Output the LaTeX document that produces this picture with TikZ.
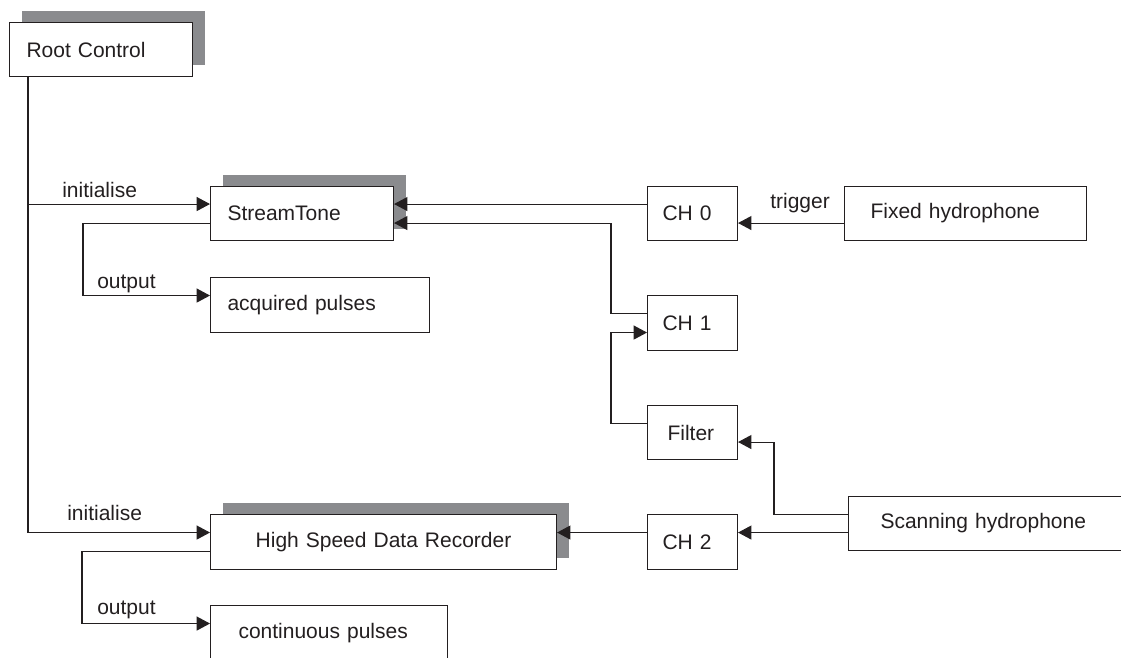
\documentclass[tikz,border=0pt]{standalone}
\usepackage{fontspec}
\setmainfont{Liberation Sans}
\usetikzlibrary{arrows.meta,calc,shadows}

\definecolor{ink}{HTML}{231F20}
\definecolor{shadegray}{HTML}{8A8B8E}

\tikzset{
  blk/.style n args={3}{draw=ink, line width=0.8pt, fill=white, anchor=north west,
    minimum width=#1*0.75pt, minimum height=#2*0.75pt, inner xsep=#3*0.75pt,
    inner ysep=0pt, text width=#1*0.75pt-1.5*#3pt, align=left, text=ink},
  shd/.style={drop shadow={shadow xshift=9pt, shadow yshift=9pt, fill=shadegray, opacity=1}},
  ln/.style={draw=ink, line width=0.8pt},
  arr/.style={-{Triangle[length=10pt,width=10.5pt]}},
  lbl/.style={text=ink, anchor=base west, inner sep=0pt}
}

\begin{document}
\begin{tikzpicture}[x=0.75pt, y=-0.75pt, font=\fontsize{15.75}{18}\selectfont]
    \useasboundingbox (0,0) rectangle (1121,657);
    \clip (0,0) rectangle (1121,657);

    % Draw the blocks
    \node[blk={183}{54}{17}, shd] (root) at (9,22) {Root Control};
    \node[blk={183}{54}{17}, shd] (stream) at (210,186) {StreamTone};
    \node[blk={219}{55}{17}] (acq) at (210,277) {acquired pulses};
    \node[blk={346}{55}{20}, align=center, shd] (hsdr) at (210,514) {High Speed Data Recorder};
    \node[blk={237}{55}{28}] (cont) at (210,605) {continuous pulses};
    \node[blk={90}{54}{15}] (ch0) at (647,186) {CH 0};
    \node[blk={90}{55}{15}] (ch1) at (647,295) {CH 1};
    \node[blk={90}{54}{20}] (filter) at (647,405) {Filter};
    \node[blk={90}{55}{15}] (ch2) at (647,514) {CH 2};
    \node[blk={242}{54}{26}] (fixed) at (844,186) {Fixed hydrophone};
    \node[blk={300}{54}{32}] (scan) at (848,496) {Scanning hydrophone};

    % Root control lines
    \coordinate (trunk) at ($(root.south west)+(19,0)$);
    \coordinate (st-in) at ($(stream.west)+(0,-9.5)$);
    \coordinate (hs-in) at ($(hsdr.west)+(0,-9.5)$);
    \draw[ln, arr] (trunk) |- (hs-in);
    \draw[ln, arr] (trunk |- st-in) -- (st-in);
    \draw[ln, arr] ($(stream.west)+(0,9.5)$) -- ++(-127,0) |- ($(acq.west)+(0,-9.5)$);
    \draw[ln, arr] ($(hsdr.west)+(0,9.5)$) -- ++(-128,0) |- ($(cont.west)+(0,-9.5)$);

    % Channels
    \draw[ln, arr] ($(ch0.west)+(0,-9.5)$) -- ($(stream.east)+(0,-9.5)$);
    \draw[ln, arr] ($(ch1.west)+(0,-9.5)$) -- ++(-36,0) |- ($(stream.east)+(0,9.5)$);
    \draw[ln, arr] ($(fixed.west)+(0,9.5)$) -- ($(ch0.east)+(0,9.5)$);
    \draw[ln, arr] ($(filter.west)+(0,-9.5)$) -- ++(-36,0) |- ($(ch1.west)+(0,9.5)$);
    \draw[ln, arr] ($(scan.west)+(0,-9)$) -- ++(-74,0) |- ($(filter.east)+(0,9.5)$);
    \draw[ln, arr] ($(scan.west)+(0,9)$) -- ($(ch2.east)+(0,-9.5)$);
    \draw[ln, arr] ($(ch2.west)+(0,-9.5)$) -- ($(hsdr.east)+(0,-9.5)$);

    \node[lbl] (init1) at (62,197) {initialise};
    \node[lbl] (init2) at (67,520) {initialise};
    \node[lbl] (out1) at (97,288) {output};
    \node[lbl] (out2) at (97,614) {output};
    \node[lbl] (trig) at (770,208) {trigger};
\end{tikzpicture}
\end{document}
